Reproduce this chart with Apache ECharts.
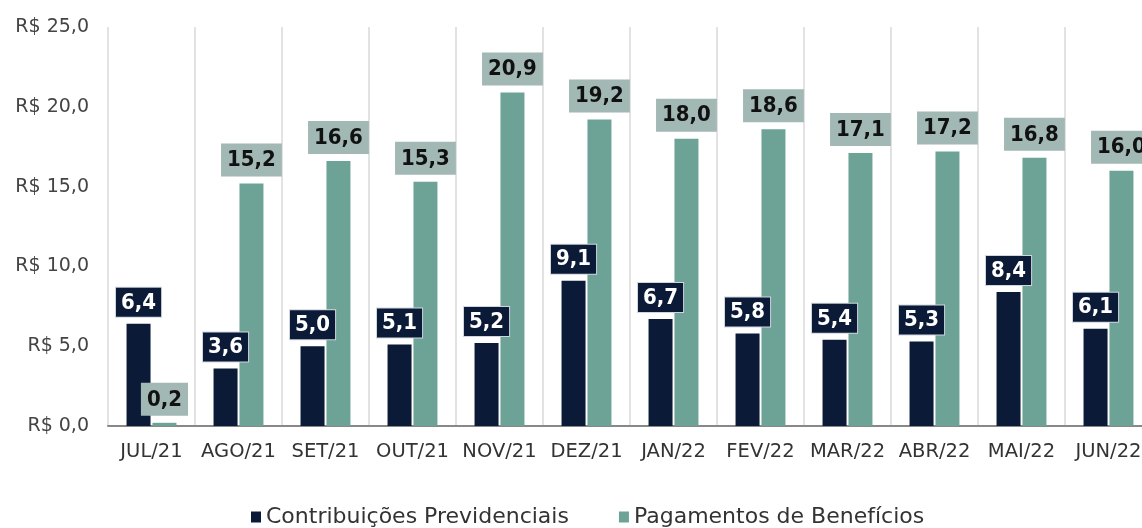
<!DOCTYPE html>
<html><head><meta charset="utf-8">
<script src="https://cdn.jsdelivr.net/npm/echarts@6/dist/echarts.min.js"></script>
<style>html,body{margin:0;padding:0;background:#fff}#c{width:1142px;height:528px}</style>
</head><body><div id="c"></div>
<script>
const categories = ['JUL/21','AGO/21','SET/21','OUT/21','NOV/21','DEZ/21','JAN/22','FEV/22','MAR/22','ABR/22','MAI/22','JUN/22'];
const contribuicoes = [6.4,3.6,5.0,5.1,5.2,9.1,6.7,5.8,5.4,5.3,8.4,6.1];
const pagamentos = [0.2,15.2,16.6,15.3,20.9,19.2,18.0,18.6,17.1,17.2,16.8,16.0];
const seriesNames = ['Contribuições Previdenciais','Pagamentos de Benefícios'];
const yTicks = [0,5,10,15,20,25];

const fmt = v => v.toFixed(1).replace('.', ',');
const FONT = 'DejaVu Sans';
const CFONT = 'DejaVu Sans Condensed';
const chart = echarts.init(document.getElementById('c'), null, {renderer:'canvas'});
chart.setOption({
  animation:false,
  grid:{left:108, top:27, width:1044, height:399, outerBoundsMode:'none', containLabel:false},
  legend:{
    top:501, left:246, itemWidth:10, itemHeight:11, itemGap:50,
    icon:'rect',
    textStyle:{fontFamily:FONT, fontSize:22, color:'#333', padding:[0,0,0,0]},
    data:seriesNames
  },
  xAxis:{
    type:'category', data:categories,
    axisLine:{lineStyle:{color:'#888', width:2}},
    axisTick:{show:false},
    axisLabel:{fontFamily:FONT, fontSize:19.5, color:'#333', margin:16, interval:0},
    splitLine:{show:true, lineStyle:{color:'#d9d9d9', width:1.5}}
  },
  yAxis:{
    type:'value', min:yTicks[0], max:yTicks[yTicks.length-1], interval:5,
    axisLine:{show:false}, axisTick:{show:false},
    splitLine:{show:false},
    axisLabel:{fontFamily:FONT, fontSize:19, color:'#444', margin:19, formatter:v=>'R$ '+fmt(v)}
  },
  series:[
    {
      name:seriesNames[0], type:'bar', data:contribuicoes, barWidth:24, barGap:'8%',
      itemStyle:{color:'#0b1a36'},
      label:{show:true, position:'top', distance:7, formatter:p=>fmt(p.value),
        fontFamily:CFONT, fontWeight:'bold', fontSize:22, color:'#fff', lineHeight:22,
        backgroundColor:'#0b1a36', borderColor:'#d0d6de', borderWidth:1, padding:[4,5,3,5]}
    },
    {
      name:seriesNames[1], type:'bar', data:pagamentos, barWidth:24,
      itemStyle:{color:'#6da396'},
      label:{show:true, position:'top', distance:7, formatter:p=>fmt(p.value),
        fontFamily:CFONT, fontWeight:'bold', fontSize:22, color:'#111', lineHeight:22,
        backgroundColor:'#a1b8b4', padding:[6,6,5,6]}
    }
  ]
});
</script></body></html>
